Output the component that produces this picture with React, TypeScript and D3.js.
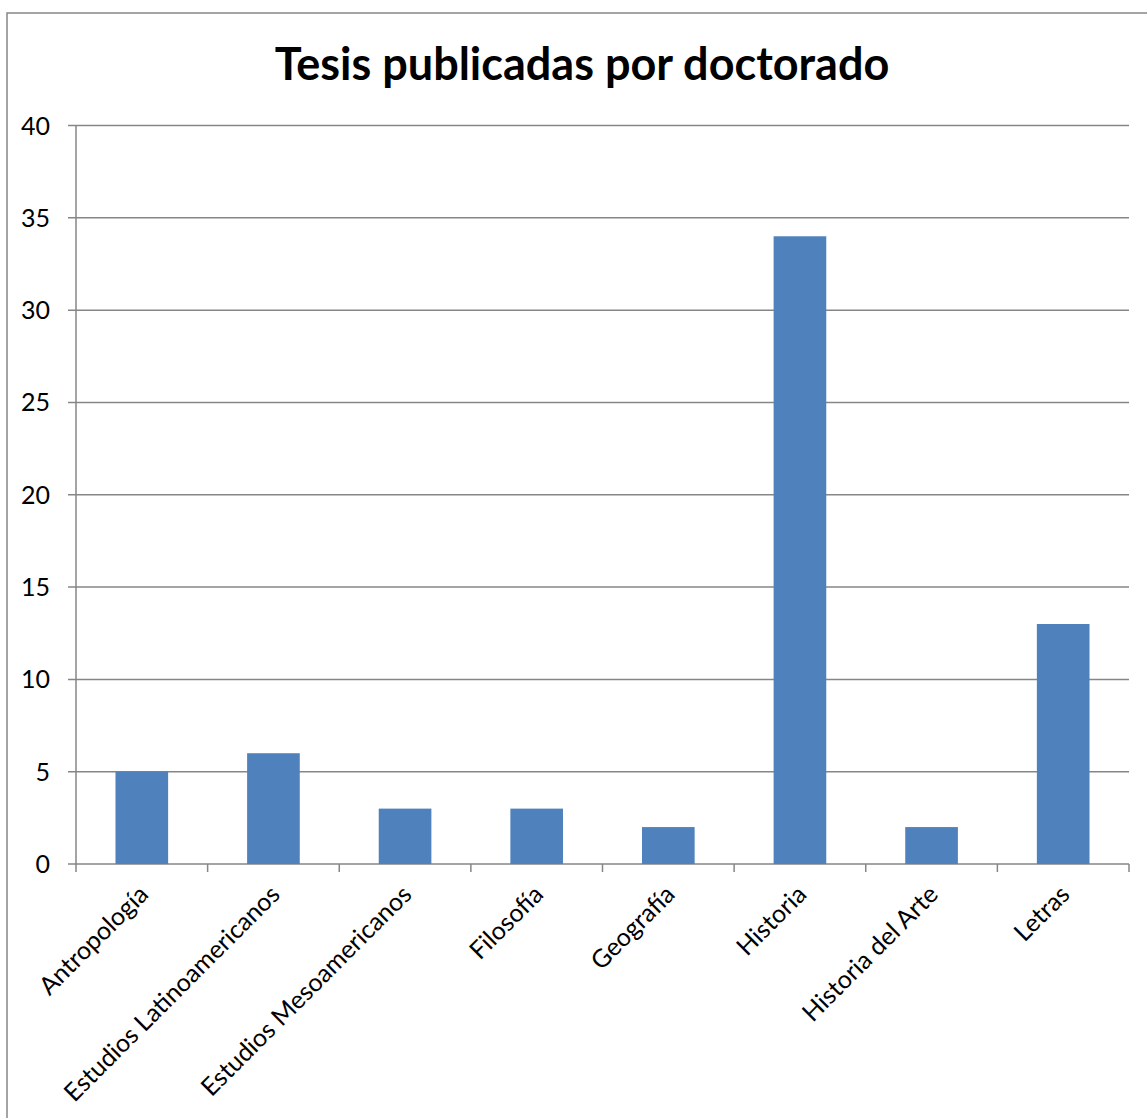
import React from 'react'
import { scaleBand, scaleLinear } from 'd3'

const categories = [
  'Antropología',
  'Estudios Latinoamericanos',
  'Estudios Mesoamericanos',
  'Filosofía',
  'Geografía',
  'Historia',
  'Historia del Arte',
  'Letras',
]
const values = [5, 6, 3, 3, 2, 34, 2, 13]
const yTicks = [0, 5, 10, 15, 20, 25, 30, 35, 40]

const FONT = 'Lato, "Open Sans", sans-serif'

export default function App() {
  const width = 1147,
    height = 1118
  const left = 76,
    right = 1129,
    top = 125.5,
    bottom = 864

  const x = scaleBand().domain(categories).range([left, right]).paddingInner(0).paddingOuter(0)
  const y = scaleLinear().domain([0, 40]).range([bottom, top])
  const barW = x.bandwidth() / 2.5

  return (
    <svg
      width={width}
      height={height}
      style={{ position: 'absolute', left: 0, top: 0, background: 'white' }}
    >
      <rect x={7} y={13} width={width} height={height} fill="white" stroke="#868686" strokeWidth={1.5} />
      <text x={582} y={80} textAnchor="middle" fontFamily={FONT} fontWeight="bold" fontSize={45} fill="#000">
        Tesis publicadas por doctorado
      </text>

      {/* grid + y axis */}
      {yTicks.map(t => (
        <g key={t}>
          <line x1={left - 8} x2={right} y1={y(t)} y2={y(t)} stroke="#868686" strokeWidth={1.5} />
          <text x={left - 26} y={y(t) + 9} textAnchor="end" fontFamily={FONT} fontSize={25} fill="#000">
            {t}
          </text>
        </g>
      ))}
      <line x1={left} x2={left} y1={top} y2={bottom} stroke="#868686" strokeWidth={1.5} />

      {/* bars */}
      {categories.map((c, i) => (
        <rect
          key={c}
          x={x(c)! + (x.bandwidth() - barW) / 2}
          y={y(values[i])}
          width={barW}
          height={y(0) - y(values[i])}
          fill="#4F81BD"
        />
      ))}

      {/* x ticks */}
      {categories.concat(['']).map((c, i) => (
        <line
          key={'t' + i}
          x1={left + i * x.bandwidth()}
          x2={left + i * x.bandwidth()}
          y1={bottom}
          y2={bottom + 8}
          stroke="#868686"
          strokeWidth={1.5}
        />
      ))}

      {/* x labels */}
      {categories.map(c => {
        const cx = x(c)! + x.bandwidth() / 2 + 8
        const cy = bottom + 32
        return (
          <text
            key={'l' + c}
            transform={`translate(${cx},${cy}) rotate(-45)`}
            textAnchor="end"
            fontFamily={FONT}
            fontSize={25}
            fill="#000"
          >
            {c}
          </text>
        )
      })}
    </svg>
  )
}
